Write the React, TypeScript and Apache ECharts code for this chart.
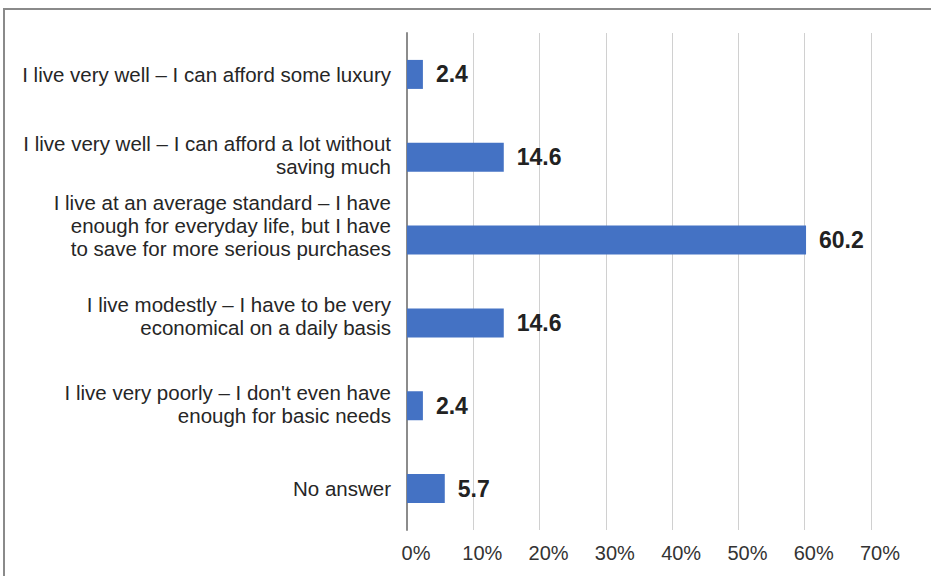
import React, { useEffect, useRef } from "react";
import * as echarts from "echarts";

const categories = [
  "I live very well – I can afford some luxury",
  "I live very well – I can afford a lot without\nsaving much",
  "I live at an average standard – I have\nenough for everyday life, but I have\nto save for more serious purchases",
  "I live modestly – I have to be very\neconomical on a daily basis",
  "I live very poorly – I don't even have\nenough for basic needs",
  "No answer",
];
const values = [2.4, 14.6, 60.2, 14.6, 2.4, 5.7];
const tickMax = 70;
const tickStep = 10;

const FONT = "'Liberation Sans', Arial, sans-serif";
// vertical lift (px) of each category label, as in the original layout
const labelLift = [0, 2, 15, 7, 2, 0];

export default function App() {
  const ref = useRef<HTMLDivElement>(null);
  useEffect(() => {
    if (!ref.current) return;
    const chart = echarts.init(ref.current, undefined, { renderer: "svg" });
    const rich: Record<string, any> = {};
    labelLift.forEach((l, i) => {
      rich["g" + i] = { fontSize: 1, lineHeight: l * 2, height: l * 2 };
    });
    chart.setOption({
      animation: false,
      backgroundColor: "#ffffff",
      textStyle: { fontFamily: FONT },
      graphic: [
        {
          type: "rect",
          shape: { x: 4, y: 9, width: 960, height: 620 },
          style: { fill: "none", stroke: "#8a8a8a", lineWidth: 2 },
          silent: true,
        },
      ],
      grid: { left: 407, right: 60, top: 33, bottom: 46, containLabel: false },
      xAxis: {
        type: "value",
        min: 0,
        max: tickMax,
        interval: tickStep,
        axisLine: { show: false },
        axisTick: { show: false },
        splitLine: { show: true, lineStyle: { color: "#d0d0d0", width: 1 } },
        axisLabel: {
          formatter: (v: number) => `${v}%`,
          color: "#333333",
          fontSize: 20,
          margin: 13,
          padding: [0, 0, 0, 18],
          fontFamily: FONT,
        },
      },
      yAxis: {
        type: "category",
        data: categories,
        inverse: true,
        axisLine: { show: true, lineStyle: { color: "#8c8c8c", width: 2 } },
        axisTick: { show: false },
        axisLabel: {
          color: "#262626",
          fontSize: 20.5,
          lineHeight: 23,
          margin: 16,
          align: "right",
          fontFamily: FONT,
          formatter: (v: string, i: number) =>
            labelLift[i] > 0 ? `${v}\n{g${i}| }` : v,
          rich,
        },
      },
      series: [
        {
          type: "bar",
          data: values,
          barWidth: 29,
          itemStyle: { color: "#4472c4" },
          label: {
            show: true,
            position: "right",
            distance: 13,
            formatter: (p: any) => p.value.toFixed(1),
            color: "#222222",
            fontSize: 23,
            fontWeight: "bold",
            fontFamily: FONT,
          },
        },
      ],
    });
    return () => chart.dispose();
  }, []);
  return (
    <div
      ref={ref}
      style={{ position: "fixed", left: 0, top: 0, width: 931, height: 576 }}
    />
  );
}
